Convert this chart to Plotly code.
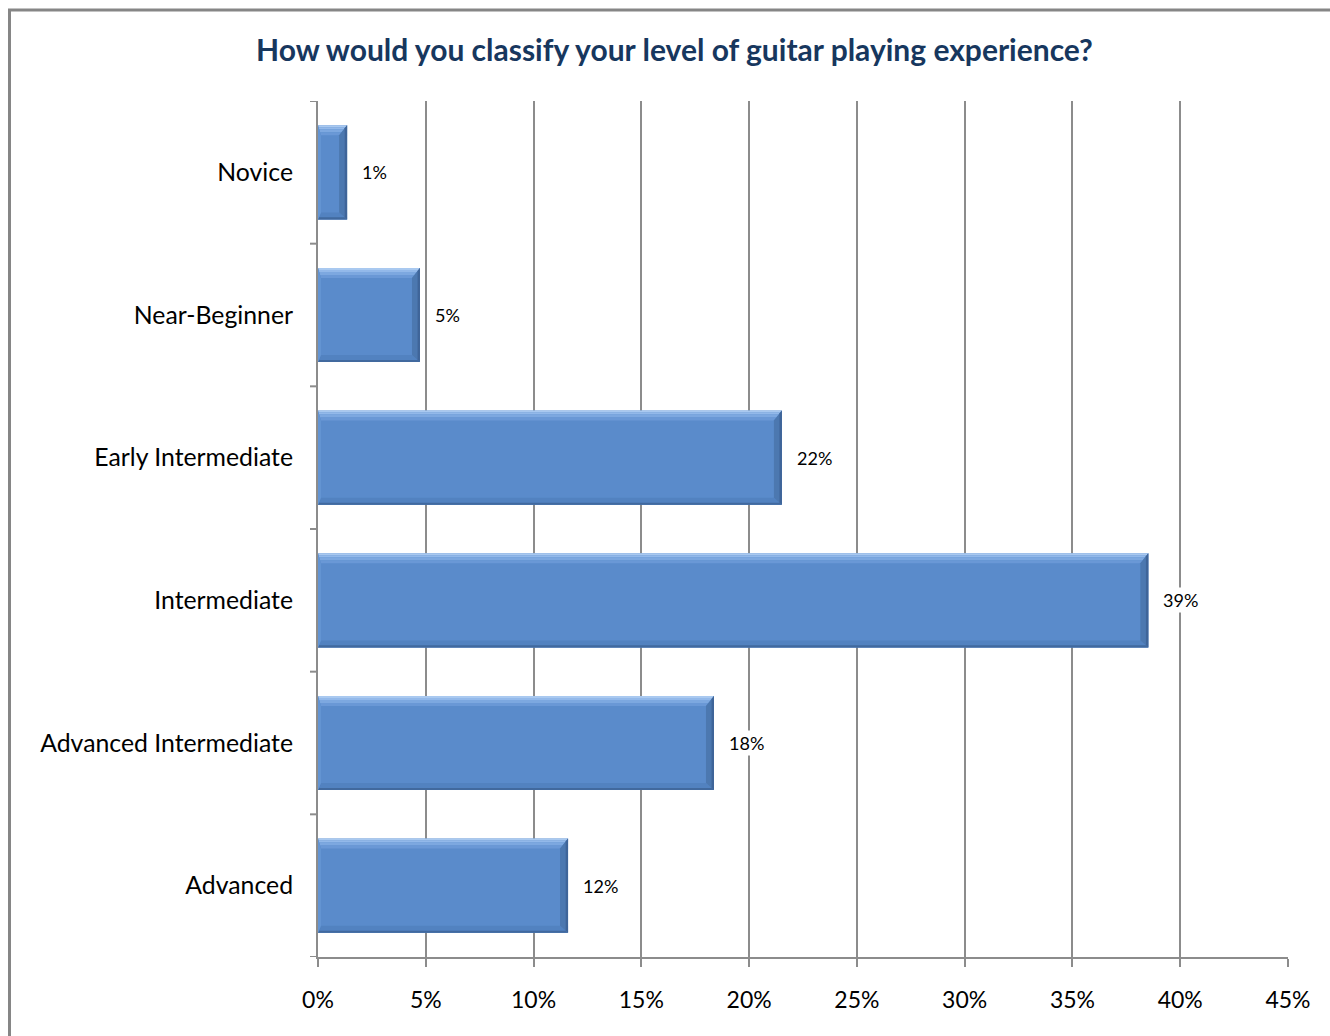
import plotly.graph_objects as go

# Survey responses (share of respondents)
levels = ["Novice", "Near-Beginner", "Early Intermediate", "Intermediate",
          "Advanced Intermediate", "Advanced"]
shares = [0.0135, 0.0473, 0.2152, 0.3852, 0.1837, 0.1160]
x_ticks = [0, 0.05, 0.10, 0.15, 0.20, 0.25, 0.30, 0.35, 0.40, 0.45]
x_tick_text = ["0%", "5%", "10%", "15%", "20%", "25%", "30%", "35%", "40%", "45%"]

W, H = 1330, 1036
M_L, M_R, M_T, M_B = 318, 42, 101, 79
PLOT_W = W - M_L - M_R
PLOT_H = H - M_T - M_B
X_MAX = 0.45
BAR_W = 0.66

FONT = "Lato, 'Open Sans', sans-serif"
FILL = "#5A8BCB"

fig = go.Figure()

fig.add_trace(go.Bar(
    x=shares, y=list(range(len(levels))), orientation="h",
    width=BAR_W,
    marker=dict(color=FILL, line=dict(width=0)),
    hoverinfo="skip",
))

# Bevel edges for each bar, sized in pixels and converted to data units
px_x = X_MAX / PLOT_W
px_y = len(levels) / PLOT_H


def band_top(v, y0, d0, d1, r0, r1, l0, l1, color):
    return dict(type="path", xref="x", yref="y", line=dict(width=0), fillcolor=color,
                path=(f"M {l0} {y0 + d0} L {v - r0} {y0 + d0} "
                      f"L {v - r1} {y0 + d1} L {l1} {y0 + d1} Z"))


shapes = []
for i, v in enumerate(shares):
    y0, y1 = i - BAR_W / 2, i + BAR_W / 2  # y0 is the top (axis reversed)
    rb = min(8 * px_x, v / 3)   # right bevel width
    lb = min(3 * px_x, v / 5)   # left bevel width
    bb = 7 * px_y              # bottom bevel height
    # top gradient bands (light to fill)
    top_steps = [(0, 2, "#A9C9F0"), (2, 4, "#93B9EA"), (4, 7, "#7DA8E0"), (7, 10, "#6A98D6")]
    for a, b, c in top_steps:
        fa, fb = a / 10, b / 10
        shapes.append(band_top(v, y0, a * px_y, b * px_y, rb * fa, rb * fb,
                               lb * fa, lb * fb, c))
    # bottom dark band
    shapes.append(dict(type="path", xref="x", yref="y", line=dict(width=0),
                       fillcolor="#5282C0",
                       path=f"M 0 {y1} L {v} {y1} L {v - rb} {y1 - bb} L {lb} {y1 - bb} Z"))
    shapes.append(dict(type="path", xref="x", yref="y", line=dict(width=0),
                       fillcolor="#41699E",
                       path=f"M 0 {y1} L {v} {y1} L {v - rb*0.3} {y1 - bb*0.3} L {lb*0.3} {y1 - bb*0.3} Z"))
    # right dark band
    shapes.append(dict(type="path", xref="x", yref="y", line=dict(width=0),
                       fillcolor="#4C78B0",
                       path=f"M {v} {y0} L {v} {y1} L {v - rb} {y1 - bb} L {v - rb} {y0 + 10*px_y} Z"))
    shapes.append(dict(type="path", xref="x", yref="y", line=dict(width=0),
                       fillcolor="#3F6599",
                       path=f"M {v} {y0} L {v} {y1} L {v - rb*0.3} {y1 - bb*0.3} L {v - rb*0.3} {y0 + 3*px_y} Z"))
    # faint left band
    shapes.append(dict(type="path", xref="x", yref="y", line=dict(width=0),
                       fillcolor="#6394D2",
                       path=f"M 0 {y0} L 0 {y1} L {lb} {y1 - bb} L {lb} {y0 + 10*px_y} Z"))


# Outer chart frame
def px2paper_x(p):
    return (p - M_L) / PLOT_W


def px2paper_y(p):
    return 1 - (p - M_T) / PLOT_H


shapes.append(dict(type="rect", xref="paper", yref="paper",
                   x0=px2paper_x(9.5), x1=px2paper_x(W + 10),
                   y0=px2paper_y(H + 10), y1=px2paper_y(10),
                   line=dict(color="#868686", width=3), fillcolor="rgba(0,0,0,0)",
                   layer="below"))

# Category boundary ticks on the y axis
for b in [k - 0.5 for k in range(len(levels) + 1)]:
    shapes.append(dict(type="line", xref="paper", yref="y",
                       x0=px2paper_x(310), x1=0, y0=b, y1=b,
                       line=dict(color="#8C8C8C", width=2)))

# Value labels on white boxes
annotations = []
for i, v in enumerate(shares):
    annotations.append(dict(x=v, y=i, xref="x", yref="y", text=f"{v:.0%}",
                            showarrow=False, xanchor="left", xshift=13,
                            font=dict(family=FONT, size=18, color="#000000"),
                            bgcolor="#FFFFFF", borderpad=1))

fig.update_layout(
    width=W, height=H,
    margin=dict(l=M_L, r=M_R, t=M_T, b=M_B),
    paper_bgcolor="#FFFFFF", plot_bgcolor="#FFFFFF",
    showlegend=False,
    title=dict(text="<b>How would you classify your level of guitar playing experience?</b>",
               x=(257 + 1092) / 2 / W, xref="container", xanchor="center",
               y=1 - 50 / H, yanchor="middle",
               font=dict(family=FONT, size=30, color="#17375E")),
    xaxis=dict(range=[0, X_MAX], tickvals=x_ticks, ticktext=x_tick_text,
               showgrid=True, gridcolor="#8C8C8C", gridwidth=2,
               showline=True, linecolor="#8C8C8C", linewidth=2,
               ticks="outside", ticklen=8, tickcolor="#8C8C8C", tickwidth=2,
               tickfont=dict(family=FONT, size=23, color="#000000"),
               ticklabelstandoff=13, zeroline=False, fixedrange=True),
    yaxis=dict(range=[len(levels) - 0.5, -0.5],
               tickvals=list(range(len(levels))), ticktext=levels,
               showgrid=False, showline=True, linecolor="#8C8C8C", linewidth=2,
               ticks="", tickfont=dict(family=FONT, size=24.8, color="#000000"),
               ticklabelstandoff=18, zeroline=False, fixedrange=True),
    shapes=shapes,
    annotations=annotations,
    bargap=0.34,
)

fig.write_html("out.html")
